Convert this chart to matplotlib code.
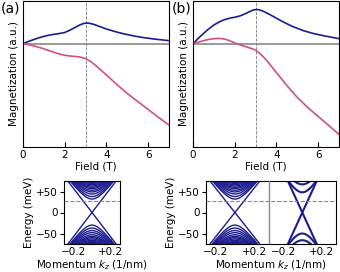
import numpy as np
import matplotlib
matplotlib.use("Agg")
import matplotlib.pyplot as plt

blue = '#1c1c8e'
pink = '#d4507c'

# magnetization curves (arbitrary units)
field_a_blue = [0.0, 0.25, 0.5, 0.75, 1.0, 1.25, 1.5, 1.75, 2.0, 2.25, 2.5, 2.75, 2.9, 3.05,
                3.2, 3.4, 3.7, 4.0, 4.4, 4.8, 5.3, 5.8, 6.3, 7.0]
mag_a_blue = [0.0, 0.021, 0.040, 0.058, 0.073, 0.085, 0.094, 0.102, 0.112, 0.135, 0.163, 0.190, 0.202, 0.207,
              0.204, 0.193, 0.170, 0.147, 0.122, 0.100, 0.078, 0.060, 0.046, 0.030]
field_a_pink = [0.0, 0.25, 0.5, 0.75, 1.0, 1.25, 1.5, 1.75, 2.0, 2.25, 2.5, 2.75, 3.0, 3.25,
                3.5, 3.75, 4.0, 4.5, 5.0, 5.5, 6.0, 6.5, 7.0]
mag_a_pink = [0.0, -0.010, -0.022, -0.036, -0.052, -0.070, -0.088, -0.104, -0.117, -0.124, -0.128, -0.135, -0.150, -0.180,
              -0.222, -0.268, -0.315, -0.410, -0.500, -0.580, -0.660, -0.740, -0.817]

field_b_blue = [0.0, 0.25, 0.5, 0.75, 1.0, 1.25, 1.5, 1.75, 2.0, 2.25, 2.5, 2.75, 2.9, 3.05,
                3.2, 3.4, 3.7, 4.0, 4.4, 4.8, 5.3, 5.8, 6.3, 7.0]
mag_b_blue = [0.0, 0.052, 0.102, 0.147, 0.187, 0.217, 0.240, 0.255, 0.265, 0.278, 0.300, 0.325, 0.338, 0.343,
              0.338, 0.322, 0.290, 0.255, 0.210, 0.170, 0.130, 0.100, 0.078, 0.050]
field_b_pink = [0.0, 0.25, 0.5, 0.75, 1.0, 1.25, 1.5, 1.75, 2.0, 2.25, 2.5, 2.75, 3.0, 3.25,
                3.5, 3.75, 4.0, 4.5, 5.0, 5.5, 6.0, 6.5, 7.0]
mag_b_pink = [0.0, 0.015, 0.030, 0.042, 0.050, 0.053, 0.047, 0.030, 0.008, -0.012, -0.028, -0.045, -0.065, -0.105,
              -0.160, -0.225, -0.290, -0.420, -0.540, -0.640, -0.730, -0.820, -0.910]

# band structure parameters (meV, meV*nm)
v_left = 290.0
gaps_up_left = [32, 38, 44, 49, 53, 57, 60, 63, 66, 69, 71, 73, 75]
gaps_dn_left = [30, 37, 43, 48, 53, 57, 60, 63, 66, 69, 71, 73, 75]
v_chiral_right = 500.0
v_gap_right = 400.0
gaps_up_right = [48, 67]
gaps_dn_right = [50, 66]
k_shift = 0.7
e_fermi = 27

plt.rcParams['font.size'] = 7.5
fig = plt.figure(figsize=(3.4, 2.72), dpi=100)

W, H = 340.0, 272.0


def box(x0, x1, y0, y1):
    return [x0 / W, 1 - y1 / H, (x1 - x0) / W, (y1 - y0) / H]


def top_panel(ax, fb, mb, fp, mp):
    ax.axhline(0, color='#999999', lw=1.4, zorder=1)
    ax.axvline(3, color='#777777', lw=0.6, ls='--', zorder=1)
    ax.plot(fb, mb, color=blue, lw=1.2)
    ax.plot(fp, mp, color=pink, lw=1.2)
    ax.set_xlim(0, 7)
    ax.set_ylim(-1.037, 0.433)
    ax.set_xticks([0, 2, 4, 6])
    ax.set_yticks([])
    ax.tick_params(direction='in', length=3.5, pad=2)
    ax.set_xlabel('Field (T)', labelpad=1)
    ax.set_ylabel('Magnetization (a.u.)', labelpad=3)


ax_a = fig.add_axes(box(23, 169, 0.5, 147))
top_panel(ax_a, field_a_blue, mag_a_blue, field_a_pink, mag_a_pink)
ax_b = fig.add_axes(box(193, 339, 0.5, 147))
top_panel(ax_b, field_b_blue, mag_b_blue, field_b_pink, mag_b_pink)
fig.text(1 / W, 1 - 2 / H, '(a)', fontsize=10, va='top', ha='left')
fig.text(172 / W, 1 - 2 / H, '(b)', fontsize=10, va='top', ha='left')


def bands(ax, k0, v_ch, v_g, gu, gd, lw, z=2):
    k = np.linspace(-0.5, 0.5, 800)
    ax.plot(k + k0, v_ch * k, color=blue, lw=lw, zorder=z)
    ax.plot(k + k0, -v_ch * k, color=blue, lw=lw, zorder=z)
    for g in gu:
        ax.plot(k + k0, np.sqrt((v_g * k) ** 2 + g ** 2), color=blue, lw=lw, zorder=z)
    for g in gd:
        ax.plot(k + k0, -np.sqrt((v_g * k) ** 2 + g ** 2), color=blue, lw=lw, zorder=z)


def bottom_style(ax):
    ax.axhline(e_fermi, color='#888888', lw=0.8, ls='--', zorder=4)
    ax.set_ylim(-75, 75)
    ax.set_yticks([50, 0, -50])
    ax.set_yticklabels(['+50', '0', '\u221250'])
    ax.tick_params(axis='x', direction='in', length=3.5, pad=2)
    ax.tick_params(axis='y', direction='out', length=3, pad=1.5)
    ax.set_xlabel('Momentum $k_z$ (1/nm)', labelpad=1)
    ax.set_ylabel('Energy (meV)', labelpad=1)


ax_c = fig.add_axes(box(64, 120, 181, 244))
bands(ax_c, 0.0, v_left, v_left, gaps_up_left, gaps_dn_left, 1.0)
ax_c.set_xlim(-0.3, 0.3)
ax_c.set_xticks([-0.2, 0.2])
ax_c.set_xticklabels(['\u22120.2', '+0.2'])
bottom_style(ax_c)

ax_d = fig.add_axes(box(206, 336, 181, 244))
bands(ax_d, 0.0, v_left, v_left, gaps_up_left, gaps_dn_left, 1.0)
ax_d.fill_betweenx([-80, 80], 0.35, 1.2, color='white', zorder=2.2)
bands(ax_d, k_shift, v_chiral_right, v_gap_right, gaps_up_right, gaps_dn_right, 1.5, z=2.5)
ax_d.axvline(0.35, color='#888888', lw=1.0, zorder=4)
ax_d.set_xlim(-0.3, 1.05)
ax_d.set_xticks([-0.2, 0.2, 0.5, 0.9])
ax_d.set_xticklabels(['\u22120.2', '+0.2', '\u22120.2', '+0.2'])
bottom_style(ax_d)

fig.savefig('out.png', dpi=100)
